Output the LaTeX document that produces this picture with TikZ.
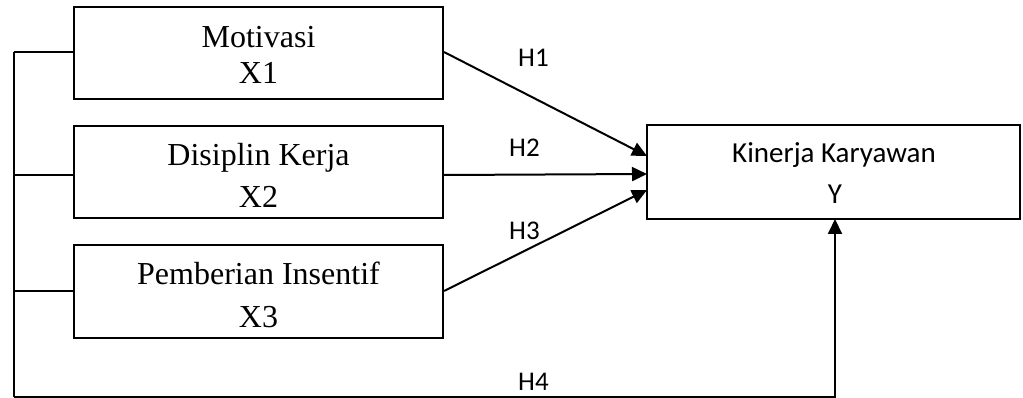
\documentclass[tikz,border=0pt]{standalone}
\usepackage{fontspec}
\setmainfont{Liberation Serif}
\newfontfamily\calibfont{Carlito}
\usetikzlibrary{arrows.meta}
\begin{document}
\begin{tikzpicture}[x=1pt,y=-1pt,
  box/.style={draw,line width=2pt,minimum width=369pt,minimum height=92pt,inner sep=0pt},
  ybox/.style={draw,line width=2pt,minimum width=373pt,minimum height=94pt,inner sep=0pt},
  serif/.style={font=\fontsize{32}{36}\selectfont,anchor=base,inner sep=0pt},
  sans/.style={font=\calibfont\fontsize{29}{34}\selectfont,anchor=base,inner sep=0pt},
  hlab/.style={font=\calibfont\fontsize{27}{32}\selectfont,anchor=base west,inner sep=0pt},
  conn/.style={line width=2pt},
  arr/.style={line width=2pt,-{Triangle[length=15pt,width=14pt]}}]
\useasboundingbox (0,0) rectangle (1023,398);
% boxes
\node[box] (x1) at (258.5,53) {};
\node[box] (x2) at (258.5,172) {};
\node[box] (x3) at (258.5,291.5) {};
\node[ybox] (y) at (833.5,172) {};
% texts
\node[serif] (t1a) at (258.5,48) {Motivasi};
\node[serif] (t1b) at (258.5,84) {X1};
\node[serif] (t2a) at (258.5,166) {Disiplin Kerja};
\node[serif] (t2b) at (258.5,208) {X2};
\node[serif] (t3a) at (258.5,284) {Pemberian Insentif};
\node[serif] (t3b) at (258.5,327) {X3};
\node[sans] (tya) at (834,163) {Kinerja Karyawan};
\node[sans] (tyb) at (835,204) {Y};
% hypothesis labels
\node[hlab] (h1) at (518,67) {H1};
\node[hlab] (h2) at (509,157) {H2};
\node[hlab] (h3) at (509,240) {H3};
\node[hlab] (h4) at (518,390) {H4};
% arrow targets
\coordinate (p1) at (647,156);
\coordinate (p2) at (647,174);
\coordinate (p3) at (647,190);
\coordinate (p4) at (835,219);
% left bus
\coordinate (b1) at (14,52);
\coordinate (b2) at (14,175);
\coordinate (b3) at (14,291);
\coordinate (bb) at (14,397);
\coordinate (bc) at (835,397);
\draw[conn] (b1) -- (bb);
\draw[conn] (b1) -- (x1.west |- b1);
\draw[conn] (b2) -- (x2.west |- b2);
\draw[conn] (b3) -- (x3.west |- b3);
% arrows
\draw[arr] (x1.east |- b1) -- (p1);
\draw[arr] (x2.east |- b2) -- (p2);
\draw[arr] (x3.east |- b3) -- (p3);
\draw[arr] (bb) -- (bc) -- (p4);
\end{tikzpicture}
\end{document}
